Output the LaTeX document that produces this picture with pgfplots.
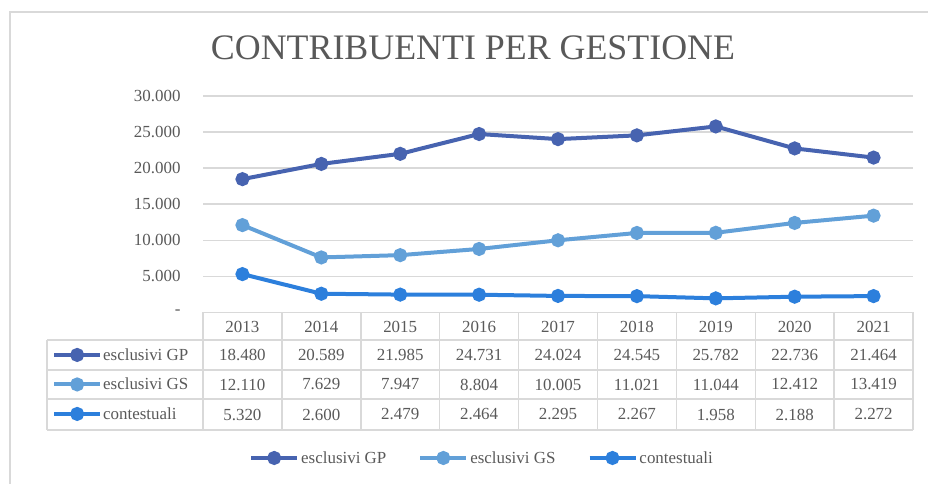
\documentclass[border=0pt]{standalone}
\usepackage{fontspec}
\setmainfont{Liberation Serif}
\usepackage{pgfplots}
\pgfplotsset{compat=1.18}
\definecolor{cGP}{HTML}{4763B0}
\definecolor{cGS}{HTML}{62A0D8}
\definecolor{cCT}{HTML}{2C7FDC}
\definecolor{gridc}{HTML}{D9D9D9}
\definecolor{txt}{HTML}{595959}
\newcommand{\tfont}{\fontsize{17}{19}\selectfont}
\pgfplotsset{
  keyimg/.style={legend image code/.code={\draw[mark repeat=2,mark phase=2] plot coordinates {(0bp,0bp) (23bp,0bp) (46bp,0bp)};}},
  serie/.style={line width=4bp, mark=*, mark size=5bp, mark options={solid}},
}
\begin{document}
\begin{tikzpicture}[x=1bp,y=1bp]
\path[use as bounding box] (0,0) rectangle (928,484);
\draw[gridc, line width=2bp] (9.5,0) -- (9.5,472) -- (928,472);
\node[txt, font=\fontsize{36}{40}\selectfont] at (473,436) {CONTRIBUENTI PER GESTIONE};
\begin{axis}[at={(203bp,171.5bp)}, anchor=south west, width=710bp, height=216.5bp, scale only axis,
  xmin=-0.5, xmax=8.5, ymin=0, ymax=30000, clip=false,
  axis line style={draw=none}, xtick=\empty,
  ytick={0,5000,10000,15000,20000,25000,30000},
  yticklabels={-,5.000,10.000,15.000,20.000,25.000,30.000},
  scaled y ticks=false,
  ymajorgrids, grid style={gridc, line width=1.5bp}, major tick length=0pt,
  yticklabel style={txt, font=\tfont, xshift=-19bp},
  /pgf/number format/assume math mode=true,
  keyimg,
  legend columns=3,
  legend style={at={(0.393,-0.672)}, anchor=center, draw=none, fill=none, font=\tfont, text=txt,
    /tikz/every even column/.append style={column sep=30bp}},
]
\addplot[cGP, serie] coordinates {(0,18480) (1,20589) (2,21985) (3,24731) (4,24024) (5,24545) (6,25782) (7,22736) (8,21464)};
\addlegendentry{esclusivi GP}
\addplot[cGS, serie] coordinates {(0,12110) (1,7629) (2,7947) (3,8804) (4,10005) (5,11021) (6,11044) (7,12412) (8,13419)};
\addlegendentry{esclusivi GS}
\addplot[cCT, serie] coordinates {(0,5320) (1,2600) (2,2479) (3,2464) (4,2295) (5,2267) (6,1958) (7,2188) (8,2272)};
\addlegendentry{contestuali}
\end{axis}
\begin{axis}[at={(203bp,171.5bp)}, anchor=south west, width=710bp, height=216.5bp, scale only axis,
  hide axis, xmin=0, xmax=1, ymin=0, ymax=1, keyimg, legend cell align=left,
  legend style={at={(-0.2127,-0.127)}, anchor=north west, draw=none, fill=none, inner sep=0pt,
    row sep=0pt, font=\tfont, text=txt, nodes={minimum height=29.5bp, inner sep=1bp}},
]
\addlegendimage{cGP, serie}
\addlegendentry{esclusivi GP}
\addlegendimage{cGS, serie}
\addlegendentry{esclusivi GS}
\addlegendimage{cCT, serie}
\addlegendentry{contestuali}
\end{axis}
% table grid
\begin{scope}[gridc, line width=1.5bp]
\draw (203,171.5) -- (913,171.5);
\foreach \yy in {144, 114, 85, 54} {\draw (47,\yy) -- (913,\yy);}
\draw (47,144) -- (47,54);
\foreach \k in {0,...,9} {\draw ({203+78.9*\k},171.5) -- ({203+78.9*\k},54);}
\end{scope}
% table text
\begin{scope}[font=\tfont, text=txt]
\foreach \v [count=\i from 0] in {2013,2014,2015,2016,2017,2018,2019,2020,2021}
  {\node at ({242.4+78.9*\i},157.5) {\v};}
\foreach \v [count=\i from 0] in {18.480,20.589,21.985,24.731,24.024,24.545,25.782,22.736,21.464}
  {\node at ({242.4+78.9*\i},129) {\v};}
\foreach \v [count=\i from 0] in {12.110,7.629,7.947,8.804,10.005,11.021,11.044,12.412,13.419}
  {\node at ({242.4+78.9*\i},99.5) {\v};}
\foreach \v [count=\i from 0] in {5.320,2.600,2.479,2.464,2.295,2.267,1.958,2.188,2.272}
  {\node at ({242.4+78.9*\i},69.5) {\v};}
\end{scope}
\end{tikzpicture}
\end{document}
